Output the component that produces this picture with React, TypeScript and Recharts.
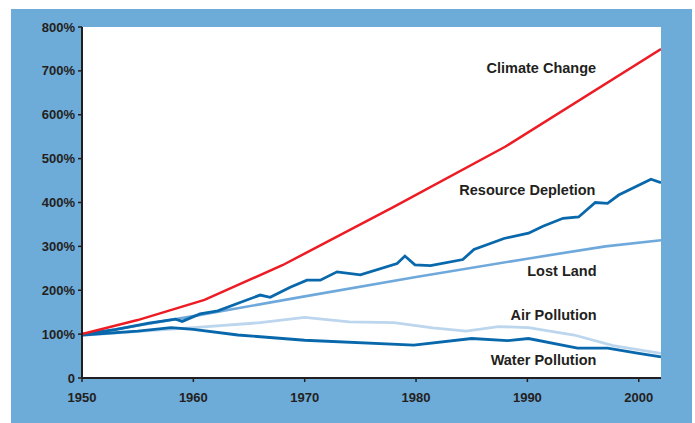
import React from "react";
import { LineChart, Line, XAxis, YAxis, CartesianGrid, ReferenceDot } from "recharts";

const yearTicks = [1950, 1960, 1970, 1980, 1990, 2000];
const pctTicks = [0, 100, 200, 300, 400, 500, 600, 700, 800];

const climateChange = [
  { year: 1950, v: 100 }, { year: 1955, v: 132 }, { year: 1961, v: 178 },
  { year: 1968, v: 257 }, { year: 1978, v: 390 }, { year: 1988, v: 527 }, { year: 2002, v: 750 },
];

const resourceDepletion = [
  { year: 1950, v: 100 }, { year: 1953, v: 110 }, { year: 1956, v: 125 }, { year: 1958.4, v: 134 },
  { year: 1959, v: 129 }, { year: 1960.6, v: 146 }, { year: 1962.2, v: 153 }, { year: 1964.2, v: 172 },
  { year: 1966, v: 189 }, { year: 1966.9, v: 184 }, { year: 1968.7, v: 207 }, { year: 1970.2, v: 223 },
  { year: 1971.4, v: 223 }, { year: 1972.9, v: 242 }, { year: 1975, v: 235 }, { year: 1978.3, v: 261 },
  { year: 1979, v: 278 }, { year: 1979.9, v: 258 }, { year: 1981.3, v: 256 }, { year: 1984.2, v: 270 },
  { year: 1985.2, v: 293 }, { year: 1987.9, v: 318 }, { year: 1990.1, v: 330 }, { year: 1991.4, v: 346 },
  { year: 1993.2, v: 364 }, { year: 1994.6, v: 367 }, { year: 1996.1, v: 400 }, { year: 1997.2, v: 398 },
  { year: 1998.2, v: 417 }, { year: 2001.1, v: 453 }, { year: 2002, v: 445 },
];

const lostLand = [
  { year: 1950, v: 98 }, { year: 1960, v: 141 }, { year: 1970, v: 186 }, { year: 1980, v: 230 },
  { year: 1990, v: 272 }, { year: 1997, v: 300 }, { year: 2002, v: 314 },
];

const airPollution = [
  { year: 1950, v: 97 }, { year: 1960, v: 115 }, { year: 1966, v: 126 }, { year: 1970, v: 138 },
  { year: 1974, v: 128 }, { year: 1978, v: 126 }, { year: 1981.5, v: 114 }, { year: 1984.5, v: 107 },
  { year: 1987.4, v: 117 }, { year: 1990.1, v: 115 }, { year: 1994.2, v: 98 }, { year: 1997.7, v: 74 },
  { year: 2002, v: 56 },
];

const waterPollution = [
  { year: 1950, v: 98 }, { year: 1955, v: 107 }, { year: 1958, v: 115 }, { year: 1960, v: 111 },
  { year: 1964, v: 98 }, { year: 1970, v: 86 }, { year: 1979.8, v: 75 }, { year: 1985, v: 90 },
  { year: 1988.2, v: 85 }, { year: 1990.1, v: 90 }, { year: 1994.5, v: 68 }, { year: 1997.2, v: 68 },
  { year: 2000, v: 56 }, { year: 2002, v: 48 },
];

const seriesLabels = [
  { name: "Climate Change", year: 1991.25, v: 706 },
  { name: "Resource Depletion", year: 1990.0, v: 428 },
  { name: "Lost Land", year: 1993.1, v: 244 },
  { name: "Air Pollution", year: 1992.35, v: 143 },
  { name: "Water Pollution", year: 1991.45, v: 41 },
];

const FONT = "'Liberation Sans', Arial, sans-serif";
const INK = "#231f20";

export default function App() {
  const tickStyle = { fontFamily: FONT, fontSize: 13, fontWeight: 700, fill: INK };
  return (
    <div style={{ position: "absolute", left: 0, top: 0, width: 695, height: 423, background: "#ffffff" }}>
      <div style={{ position: "absolute", left: 11, top: 9, width: 681, height: 414, background: "#6dabd8" }} />
      <div style={{ position: "absolute", left: 0, top: 0 }}>
        <LineChart width={695} height={423} margin={{ top: 27, right: 34, bottom: 20, left: 22 }}>
          <CartesianGrid fill="#ffffff" horizontal={false} vertical={false} />
          <XAxis
            xAxisId="main"
            type="number"
            dataKey="year"
            domain={[1950, 2002]}
            ticks={yearTicks}
            allowDataOverflow
            tickSize={4}
            tickMargin={11}
            height={25}
            axisLine={{ stroke: INK, strokeWidth: 2 }}
            tickLine={{ stroke: INK, strokeWidth: 1.5 }}
            tick={tickStyle}
          />
          <XAxis
            xAxisId="top"
            orientation="top"
            type="number"
            dataKey="year"
            domain={[1950, 2002]}
            height={0}
            tick={false}
            tickLine={false}
            axisLine={{ stroke: INK, strokeWidth: 2 }}
          />
          <YAxis
            yAxisId="main"
            type="number"
            domain={[0, 800]}
            ticks={pctTicks}
            width={60}
            tickSize={4}
            tickMargin={3}
            axisLine={{ stroke: INK, strokeWidth: 2 }}
            tickLine={{ stroke: INK, strokeWidth: 1.5 }}
            tick={tickStyle}
            tickFormatter={(v: number) => (v === 0 ? "0" : `${v}%`)}
          />
          <YAxis
            yAxisId="right"
            orientation="right"
            type="number"
            domain={[0, 800]}
            width={0}
            tick={false}
            tickLine={false}
            axisLine={{ stroke: INK, strokeWidth: 2 }}
          />
          <Line xAxisId="main" yAxisId="main" data={airPollution} dataKey="v" stroke="#bcd6ee" strokeWidth={2.8} dot={false} isAnimationActive={false} />
          <Line xAxisId="main" yAxisId="main" data={lostLand} dataKey="v" stroke="#6fa9dc" strokeWidth={2.6} dot={false} isAnimationActive={false} />
          <Line xAxisId="main" yAxisId="main" data={waterPollution} dataKey="v" stroke="#0868ab" strokeWidth={2.8} dot={false} isAnimationActive={false} />
          <Line xAxisId="main" yAxisId="main" data={resourceDepletion} dataKey="v" stroke="#0868ab" strokeWidth={2.8} dot={false} isAnimationActive={false} />
          <Line xAxisId="main" yAxisId="main" data={climateChange} dataKey="v" stroke="#ed1c24" strokeWidth={2.5} dot={false} isAnimationActive={false} />
          {seriesLabels.map((l) => (
            <ReferenceDot
              key={l.name}
              xAxisId="main"
              yAxisId="main"
              x={l.year}
              y={l.v}
              r={0}
              fill="none"
              stroke="none"
              label={{ value: l.name, position: "center", fontFamily: FONT, fontSize: 14.5, fontWeight: 700, fill: INK }}
            />
          ))}
        </LineChart>
      </div>
    </div>
  );
}
